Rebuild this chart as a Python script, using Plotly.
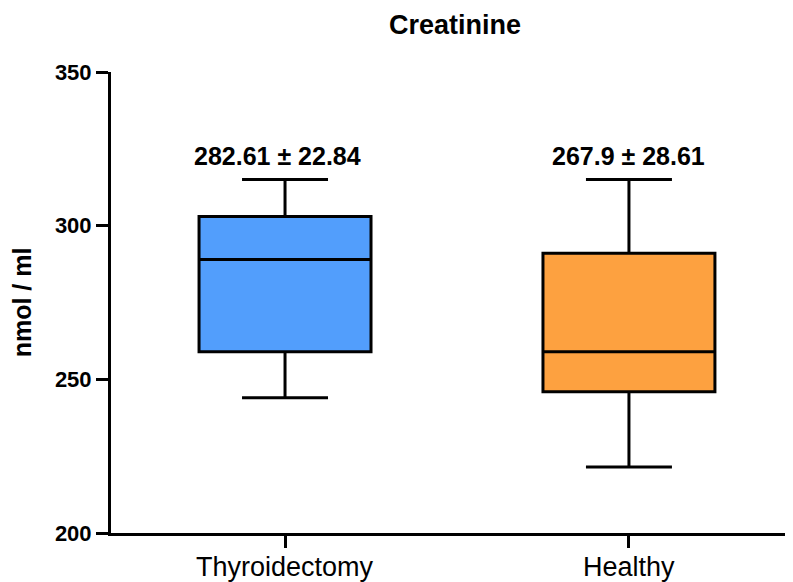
import plotly.graph_objects as go

categories = ["Thyroidectomy", "Healthy"]
q1_vals = [259, 246]
median_vals = [289, 259]
q3_vals = [303, 291]
lower_vals = [244, 221.5]
upper_vals = [315, 315]
mean_sd_labels = ["282.61 \u00b1 22.84", "267.9 \u00b1 28.61"]
fill_colors = ["#529EFC", "#FDA140"]
y_ticks = [200, 250, 300, 350]

fig = go.Figure()
for i, cat in enumerate(categories):
    fig.add_trace(go.Box(
        x=[cat],
        q1=[q1_vals[i]], median=[median_vals[i]], q3=[q3_vals[i]],
        lowerfence=[lower_vals[i]], upperfence=[upper_vals[i]],
        fillcolor=fill_colors[i],
        line=dict(color="black", width=3),
        width=0.5,
        whiskerwidth=0.5,
        boxpoints=False,
        showlegend=False,
        hoverinfo="skip",
    ))

xshifts = [-8, 0]
for i, cat in enumerate(categories):
    fig.add_annotation(
        x=cat, y=upper_vals[i], text="<b>" + mean_sd_labels[i] + "</b>",
        showarrow=False, yanchor="bottom", yshift=8, xshift=xshifts[i],
        font=dict(family="Arial, Liberation Sans, sans-serif", size=25, color="black"),
    )
    # category label under the x axis
    fig.add_annotation(
        x=cat, y=0, yref="paper", text=cat,
        showarrow=False, yanchor="top", yshift=-17,
        font=dict(family="Arial, Liberation Sans, sans-serif", size=27, color="black"),
    )

fig.update_layout(
    width=785, height=574,
    margin=dict(l=103, r=0, t=64, b=49),
    paper_bgcolor="white", plot_bgcolor="white",
    font=dict(family="Arial, Liberation Sans, sans-serif", color="black"),
    title=dict(text="<b>Creatinine</b>", x=0.5694, xanchor="center", y=0.972, yanchor="middle",
               font=dict(size=27, color="black")),
    xaxis=dict(
        type="category", range=[-0.506, 1.477],
        showline=True, linecolor="black", linewidth=3,
        ticks="outside", ticklen=12, tickwidth=3, tickcolor="black",
        showticklabels=False,
        showgrid=False, zeroline=False, fixedrange=True, automargin=False,
    ),
    yaxis=dict(
        range=[200, 350], tickvals=y_ticks,
        ticktext=["<b>%d</b>" % v for v in y_ticks],
        showline=True, linecolor="black", linewidth=3,
        ticks="outside", ticklen=12, tickwidth=3, tickcolor="black",
        tickfont=dict(size=22, color="black"),
        showgrid=False, zeroline=False, automargin=False,
        title=dict(text="<b>nmol / ml</b>", font=dict(size=25, color="black"), standoff=19),
    ),
)

fig.write_html("out.html")
